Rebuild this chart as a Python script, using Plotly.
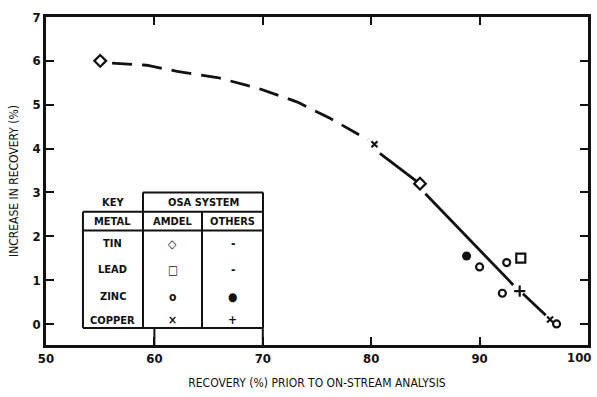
import plotly.graph_objects as go

# ---- data ----
tin_amdel_x = [55.0, 84.5]
tin_amdel_y = [6.0, 3.2]
lead_amdel_x = [93.8]
lead_amdel_y = [1.5]
zinc_amdel_x = [90.0, 92.5, 92.1, 97.1]
zinc_amdel_y = [1.3, 1.4, 0.7, 0.0]
zinc_others_x = [88.8]
zinc_others_y = [1.55]
copper_amdel_x = [80.3, 96.5]
copper_amdel_y = [4.1, 0.1]
copper_others_x = [93.7]
copper_others_y = [0.75]

curve_dash_x = [56.1, 59.3, 62.1, 65.8, 69.5, 73.2, 76.2, 78.7, 79.7]
curve_dash_y = [5.95, 5.9, 5.76, 5.62, 5.38, 5.06, 4.69, 4.35, 4.2]
curve_solid_x = [80.8, 84.2, None, 85.0, 93.1, None, 94.0, 96.1]
curve_solid_y = [3.89, 3.25, None, 2.97, 0.89, None, 0.69, 0.2]

x_ticks = [50, 60, 70, 80, 90, 100]
x_tick_text = ["50", "60", "70", "80", "90", ""]
last_x_label = "100"
y_ticks = [0, 1, 2, 3, 4, 5, 6, 7]

key_metals = ["TIN", "LEAD", "ZINC", "COPPER"]
key_amdel = ["◇", "□", "o", "×"]
key_others = ["-", "-", "●", "+"]

FONT = "DejaVu Sans Condensed, DejaVu Sans, sans-serif"
BLACK = "#111111"

fig = go.Figure()

fig.add_trace(go.Scatter(x=curve_dash_x, y=curve_dash_y, mode="lines",
                         line=dict(color=BLACK, width=2.8, dash="20px,10px"),
                         hoverinfo="skip", showlegend=False))
fig.add_trace(go.Scatter(x=curve_solid_x, y=curve_solid_y, mode="lines",
                         line=dict(color=BLACK, width=2.8),
                         hoverinfo="skip", showlegend=False, connectgaps=False))

def pts(x, y, symbol, size, width=2.2):
    fig.add_trace(go.Scatter(x=x, y=y, mode="markers", showlegend=False,
                             marker=dict(symbol=symbol, size=size, color=BLACK,
                                         line=dict(color=BLACK, width=width))))

pts(tin_amdel_x, tin_amdel_y, "diamond-open", 9)
pts(lead_amdel_x, lead_amdel_y, "square-open", 9)
pts(zinc_amdel_x, zinc_amdel_y, "circle-open", 7)
pts(zinc_others_x, zinc_others_y, "circle", 9, 0)
pts(copper_amdel_x, copper_amdel_y, "x-thin-open", 6)
pts(copper_others_x, copper_others_y, "cross-thin-open", 8)

# ---- key table (layout positions in data units) ----
tl, tc1, tc2, tr = 53.41, 58.95, 64.39, 70.02
t_osa_top, t_hdr_top, t_hdr_bot, t_bot = 3.0, 2.56, 2.13, -0.09
lw = 2
shapes = []
def seg(x0, y0, x1, y1):
    shapes.append(dict(type="line", xref="x", yref="y", x0=x0, y0=y0, x1=x1, y1=y1,
                       line=dict(color=BLACK, width=lw)))
seg(tc1, t_osa_top, tr, t_osa_top)
seg(tl, t_hdr_top, tr, t_hdr_top)
seg(tl, t_hdr_bot, tr, t_hdr_bot)
seg(tl, t_bot, tr, t_bot)
seg(tl, t_hdr_top, tl, t_bot)
seg(tc1, t_osa_top, tc1, t_bot)
seg(tc2, t_hdr_top, tc2, t_bot)
seg(tr, t_osa_top, tr, t_bot)
# long ticks under the key at 60 and 70
seg(60, -0.48, 60, t_bot)
seg(70, -0.48, 70, t_bot)

ann = []
def txt(x, y, s, size=11):
    ann.append(dict(x=x, y=y, xref="x", yref="y", text=s, showarrow=False,
                    font=dict(family=FONT, size=size, color=BLACK, weight="bold")))
txt((tl + tc1) / 2, 2.78, "KEY")
txt((tc1 + tr) / 2, 2.78, "OSA SYSTEM")
txt((tl + tc1) / 2, 2.34, "METAL")
txt((tc1 + tc2) / 2, 2.34, "AMDEL")
txt((tc2 + tr) / 2, 2.34, "OTHERS")
row_y = [1.83, 1.24, 0.62, 0.09]
for m, a, o, ry in zip(key_metals, key_amdel, key_others, row_y):
    txt((tl + tc1) / 2, ry, m)
    txt((tc1 + tc2) / 2, ry, a, 12)
    txt((tc2 + tr) / 2, ry, o, 12)

# last x tick label, kept inside the page
ann.append(dict(x=1, y=0, xref="paper", yref="paper", text=last_x_label,
                showarrow=False, xanchor="right", yanchor="top", xshift=5, yshift=-3,
                font=dict(family=FONT, size=13, color=BLACK, weight="bold")))

fig.update_layout(
    width=597, height=397,
    margin=dict(l=46, r=9, t=17, b=52),
    paper_bgcolor="white", plot_bgcolor="white",
    font=dict(family=FONT, color=BLACK),
    shapes=shapes, annotations=ann,
    xaxis=dict(range=[50, 100], tickvals=x_ticks, ticktext=x_tick_text,
               ticks="inside", ticklen=8,
               automargin=False,
               tickwidth=2, tickcolor=BLACK, showline=True, linewidth=2.5,
               linecolor=BLACK, mirror="ticks", showgrid=False, zeroline=False,
               tickfont=dict(family=FONT, size=13, weight="bold"),
               title=dict(text="RECOVERY (%) PRIOR TO ON-STREAM ANALYSIS",
                          font=dict(family=FONT, size=12), standoff=14)),
    yaxis=dict(range=[-0.48, 7], tickvals=y_ticks, ticks="inside", ticklen=8,
               automargin=False,
               tickwidth=2, tickcolor=BLACK, showline=True, linewidth=2.5,
               linecolor=BLACK, mirror="ticks", showgrid=False, zeroline=False,
               tickfont=dict(family=FONT, size=13, weight="bold"),
               title=dict(text="INCREASE IN RECOVERY (%)",
                          font=dict(family=FONT, size=12), standoff=12)),
)

fig.write_html("out.html")
